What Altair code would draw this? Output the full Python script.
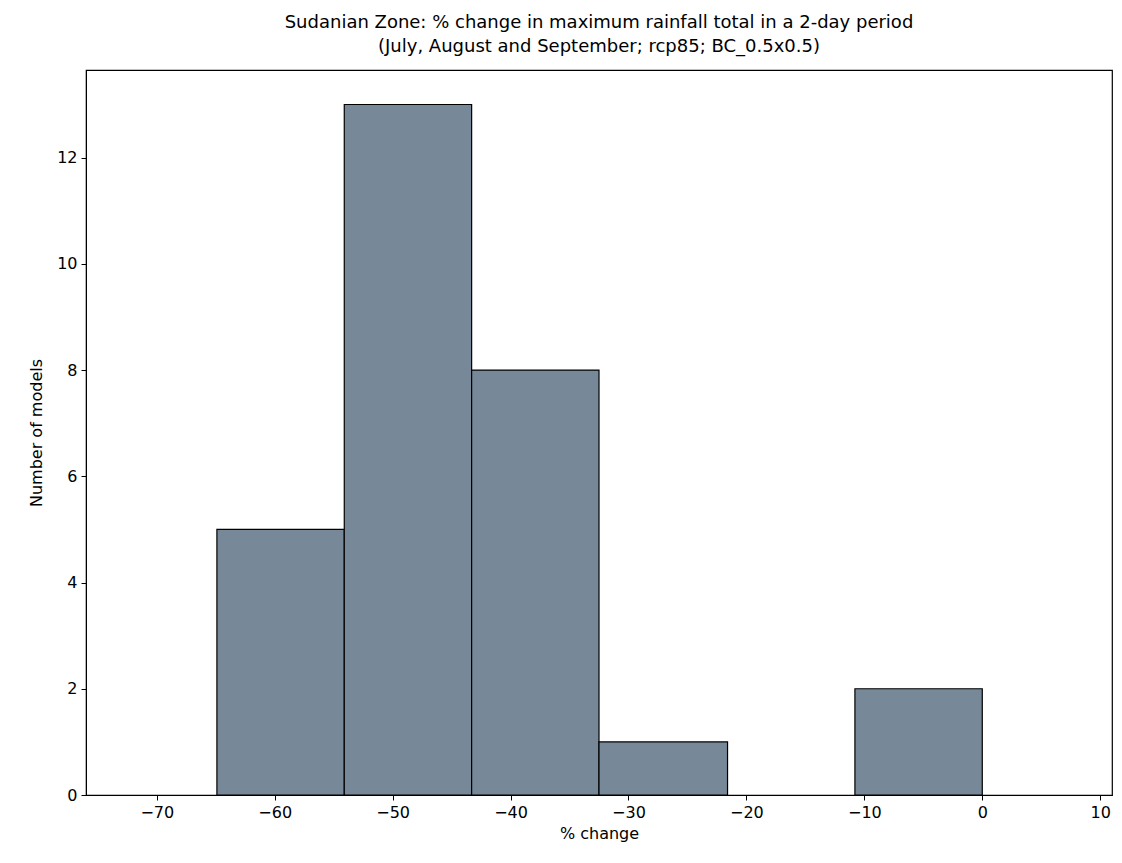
import altair as alt
import pandas as pd

bin_start = [-64.9, -54.1, -43.3, -32.5, -21.6, -10.8]
bin_end = [-54.1, -43.3, -32.5, -21.6, -10.8, 0.0]
counts = [5, 13, 8, 1, 0, 2]

x_ticks = [-70, -60, -50, -40, -30, -20, -10, 0, 10]
y_ticks = [0, 2, 4, 6, 8, 10, 12]

df = pd.DataFrame({"start": bin_start, "end": bin_end, "count": counts})
df = df[df["count"] > 0]

FONT = "DejaVu Sans"

chart = alt.Chart(df).mark_rect(
    fill="#778899", stroke="black", strokeWidth=1.2
).encode(
    x=alt.X("start:Q", scale=alt.Scale(domain=[-76.0, 11.0], nice=False, zero=False),
            axis=alt.Axis(values=x_ticks, title="% change", grid=False, tickSize=5,
                          labelFontSize=16, titleFontSize=16, labelFont=FONT, titleFont=FONT,
                          labelColor="black", titleColor="black", domainColor="black",
                          tickColor="black", labelPadding=4, titlePadding=5,
                          titleFontWeight="normal")),
    x2="end:Q",
    y=alt.Y("count:Q", scale=alt.Scale(domain=[0, 13.65], nice=False),
            axis=alt.Axis(values=y_ticks, title="Number of models", grid=False, tickSize=5,
                          labelFontSize=16, titleFontSize=16, labelFont=FONT, titleFont=FONT,
                          labelColor="black", titleColor="black", domainColor="black",
                          tickColor="black", labelPadding=4, titlePadding=12,
                          titleFontWeight="normal")),
    y2=alt.datum(0),
).properties(
    width=1026,
    height=725,
    title=alt.TitleParams(
        text=["Sudanian Zone: % change in maximum rainfall total in a 2-day period",
              "(July, August and September; rcp85; BC_0.5x0.5)"],
        font=FONT, fontSize=18, fontWeight="normal", color="black",
        anchor="middle", lineHeight=24, offset=14,
    ),
    autosize=alt.AutoSizeParams(type="none"),
    padding={"left": 78, "top": 62, "right": 2, "bottom": 50},
).configure_view(
    stroke="black", strokeWidth=1.2
)

chart.save("out.html", embed_options={"renderer": "svg", "actions": False})
